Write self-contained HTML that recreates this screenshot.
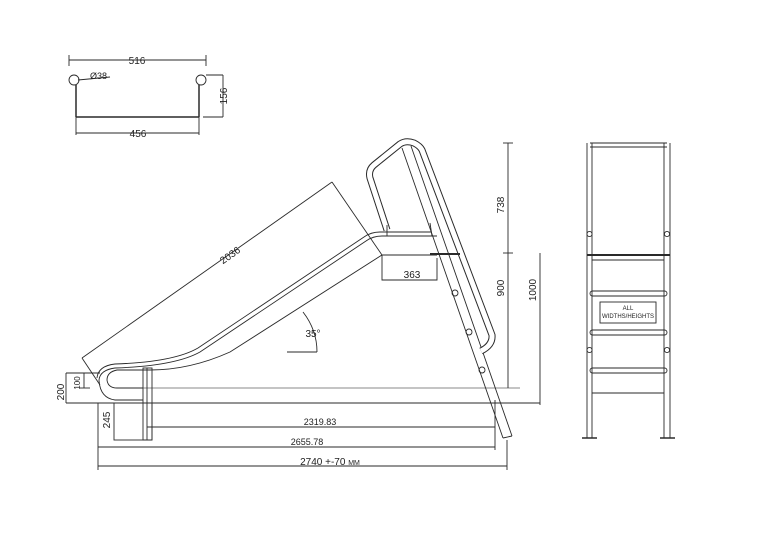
<!DOCTYPE html>
<html><head><meta charset="utf-8"><style>
html,body{margin:0;padding:0;background:#fff}
svg{display:block}
text{font-family:"Liberation Sans",sans-serif;fill:#222}
</style></head><body>
<svg width="760" height="534" viewBox="0 0 760 534" xmlns="http://www.w3.org/2000/svg">
<g fill="none" stroke="#2a2a2a" stroke-width="0.9">
<!-- top-left section -->
<line x1="69" y1="60" x2="206" y2="60"/>
<line x1="69" y1="55" x2="69" y2="66"/><line x1="206" y1="55" x2="206" y2="66"/>
<circle cx="74" cy="80" r="5"/><circle cx="201" cy="80" r="5"/>
<line x1="76" y1="85" x2="76" y2="117" stroke-width="1.5"/>
<line x1="199" y1="85" x2="199" y2="117" stroke-width="1.5"/>
<line x1="76" y1="117" x2="199" y2="117" stroke-width="1.5"/>
<line x1="76" y1="117" x2="76" y2="135"/><line x1="199" y1="117" x2="199" y2="135"/>
<line x1="76" y1="133" x2="199" y2="133"/>
<line x1="78" y1="80" x2="110" y2="77"/>
<line x1="206" y1="75" x2="223" y2="75"/><line x1="203" y1="117" x2="223" y2="117"/>
<line x1="223" y1="75" x2="223" y2="117"/>

<!-- slide -->
<path d="M431 232 L380 232 Q371 232 364 237 L198 348 Q174 362 115 364 Q98 366 97 378"/>
<path d="M437 236 L382 236 Q373 236 366 241 L200 352 Q175 366 115 368 Q100 370 99 380 Q100 398 115 400 L143 400"/>
<path d="M437 255 L382 255 L230 352 Q190 370 150 370 L117 370 Q107 372 107 380 Q108 388 117 388 L143 388"/>
<line x1="143" y1="388" x2="520" y2="388" stroke="#888"/>
<line x1="98" y1="403" x2="540" y2="403"/>
<!-- post -->
<rect x="143" y="368" width="9" height="72"/>
<line x1="147" y1="368" x2="147" y2="440"/>
<rect x="114" y="403" width="38" height="37"/>
<!-- 2036 dim -->
<line x1="82" y1="358" x2="332" y2="182"/>
<line x1="332" y1="182" x2="382" y2="255"/>
<line x1="82" y1="358" x2="100" y2="385"/>
<!-- ladder stringers -->
<line x1="402" y1="148" x2="503" y2="438"/>
<line x1="411" y1="146" x2="512" y2="436"/>
<line x1="503" y1="438" x2="512" y2="436"/>
<!-- handrail -->
<path d="M387 230 L370 178 Q368 170 374 165 L400 144 Q406 140 414 143 Q420 146 422 150 L492 335 Q493 345 481 351" stroke-width="7"/>
<path d="M387 230 L370 178 Q368 170 374 165 L400 144 Q406 140 414 143 Q420 146 422 150 L492 335 Q493 345 481 351" stroke="#fff" stroke-width="5"/>
<line x1="387" y1="225" x2="387" y2="236"/>
<line x1="430" y1="223" x2="432" y2="236"/>
<circle cx="455" cy="293" r="3"/><circle cx="469" cy="332" r="3"/><circle cx="482" cy="370" r="3"/>
<line x1="430" y1="254" x2="460" y2="254" stroke-width="2"/>
<!-- 363 -->
<path d="M382 255 L382 280 L437 280 L437 258"/>
<!-- 35 deg -->
<path d="M303 312 Q317 330 317 352"/>
<line x1="287" y1="352" x2="317" y2="352"/>
<!-- right dims -->
<line x1="508" y1="143" x2="508" y2="388"/>
<line x1="503" y1="143" x2="513" y2="143"/>
<line x1="503" y1="253" x2="513" y2="253"/>
<line x1="540" y1="253" x2="540" y2="405"/>
<!-- left dims -->
<line x1="66" y1="373" x2="66" y2="403"/>
<line x1="66" y1="373" x2="100" y2="373"/>
<line x1="66" y1="403" x2="98" y2="403"/>
<line x1="84" y1="373" x2="84" y2="388"/>
<line x1="80" y1="388" x2="90" y2="388"/>
<!-- bottom dims -->
<line x1="98" y1="403" x2="98" y2="470"/>
<line x1="147" y1="427" x2="495" y2="427"/>
<line x1="495" y1="400" x2="495" y2="450"/>
<line x1="98" y1="447" x2="495" y2="447"/>
<line x1="98" y1="466" x2="507" y2="466"/>
<line x1="507" y1="440" x2="507" y2="470"/>

<!-- front view -->
<line x1="587" y1="143" x2="587" y2="438"/><line x1="592" y1="143" x2="592" y2="438"/>
<line x1="664" y1="143" x2="664" y2="438"/><line x1="670" y1="143" x2="670" y2="438"/>
<line x1="590" y1="143" x2="667" y2="143"/><line x1="590" y1="147" x2="667" y2="147"/>
<circle cx="589.5" cy="234" r="2.6"/><circle cx="667" cy="234" r="2.6"/>
<line x1="587" y1="255" x2="670" y2="255" stroke-width="2"/>
<line x1="592" y1="260" x2="664" y2="260"/>
<rect x="590" y="291" width="77" height="5" rx="2.5"/>
<rect x="590" y="330" width="77" height="5" rx="2.5"/>
<rect x="590" y="368" width="77" height="5" rx="2.5"/>
<line x1="592" y1="393" x2="664" y2="393"/>
<circle cx="589.5" cy="350" r="2.6"/><circle cx="667" cy="350" r="2.6"/>
<rect x="600" y="302" width="56" height="21"/>
<line x1="582" y1="438" x2="597" y2="438" stroke-width="1.5"/>
<line x1="660" y1="438" x2="675" y2="438" stroke-width="1.5"/>
</g>
<g font-size="10">
<text x="137" y="64" text-anchor="middle">516</text>
<text x="90" y="79" font-size="9">Ø38</text>
<text x="138" y="137" text-anchor="middle">456</text>
<text transform="translate(227,96) rotate(-90)" text-anchor="middle">156</text>
<text transform="translate(232,258) rotate(-35)" text-anchor="middle">2036</text>
<text x="412" y="278" text-anchor="middle">363</text>
<text x="313" y="337" text-anchor="middle">35°</text>
<text transform="translate(504,205) rotate(-90)" text-anchor="middle">738</text>
<text transform="translate(504,288) rotate(-90)" text-anchor="middle">900</text>
<text transform="translate(536,290) rotate(-90)" text-anchor="middle">1000</text>
<text transform="translate(64,392) rotate(-90)" text-anchor="middle">200</text>
<text transform="translate(80,383) rotate(-90)" text-anchor="middle" font-size="8">100</text>
<text transform="translate(110,420) rotate(-90)" text-anchor="middle">245</text>
<text x="320" y="425" text-anchor="middle" font-size="9">2319.83</text>
<text x="307" y="445" text-anchor="middle" font-size="9">2655.78</text>
<text x="330" y="465" text-anchor="middle">2740 +-70 <tspan font-size="7">MM</tspan></text>
<text x="628" y="310" text-anchor="middle" font-size="6">ALL</text>
<text x="628" y="318" text-anchor="middle" font-size="6">WIDTHS/HEIGHTS</text>
</g>
</svg>
</body></html>
